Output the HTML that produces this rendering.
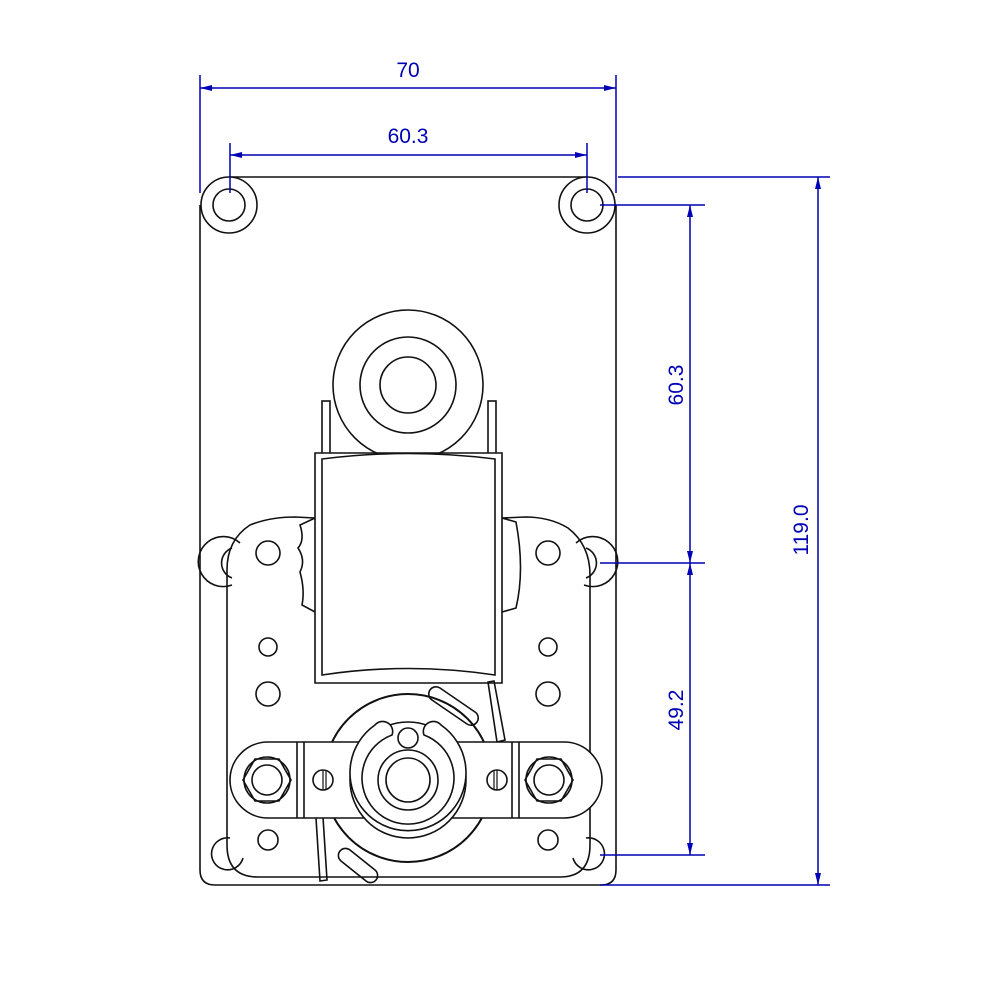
<!DOCTYPE html>
<html><head><style>html,body{margin:0;padding:0;background:#fff}svg{display:block}</style></head><body>
<svg width="1000" height="1000" viewBox="0 0 1000 1000" xmlns="http://www.w3.org/2000/svg">
<defs>
<marker id="a" viewBox="0 0 12 6" refX="12" refY="3" markerWidth="12" markerHeight="6" markerUnits="userSpaceOnUse" orient="auto-start-reverse"><path d="M0,0 L12,3 L0,6z" fill="#0000b4"/></marker>
</defs>
<g fill="none" stroke="#111" stroke-width="1.6">
<!-- plate -->
<path d="M229,177 H587 M616,205 V870 Q616,885 601,885 H215 Q200,885 200,870 V205"/>
<circle cx="229" cy="205" r="28" fill="#fff"/><circle cx="229" cy="205" r="16"/>
<circle cx="587" cy="205" r="28" fill="#fff"/><circle cx="587" cy="205" r="16"/>
<!-- motor top -->
<circle cx="408" cy="385" r="75"/><circle cx="408" cy="385" r="48"/><circle cx="408" cy="385" r="28"/>
<rect x="322" y="401" width="8" height="56" fill="#fff"/><rect x="488" y="401" width="8" height="56" fill="#fff"/>
<!-- gearbox body -->
<path d="M227,845 V570 Q227,540 250,525 Q270,517 295,517 L315,518 M502,518 L525,517 Q550,517 568,528 Q590,545 590,575 V845 Q590,877 560,877 H258 Q227,877 227,845"/>
<path d="M240,543 A25,25 0 1 0 232,585" /><path d="M232,548 A16,16 0 0 0 232,578"/>
<path d="M576,543 A25,25 0 1 1 584,585"/><path d="M586,548 A16,16 0 0 1 586,578"/>
<path d="M230,838 A16,16 0 1 0 243,858"/><path d="M586,838 A16,16 0 1 1 573,858"/>
<path d="M315,518 L300,525 Q305,540 298,548 Q306,560 300,572 Q305,590 302,605 L315,612"/>
<path d="M502,518 L516,522 Q525,570 516,608 L502,612"/>
<!-- coil -->
<path d="M315,453 H502 V683 H315 Z" fill="#fff"/>
<path d="M322,459 Q408,448 495,459 V675 Q408,662 322,675 Z"/>
<!-- holes -->
<circle cx="268" cy="553" r="12"/><circle cx="548" cy="553" r="12"/>
<circle cx="268" cy="647" r="9"/><circle cx="548" cy="647" r="9"/>
<circle cx="268" cy="694" r="12"/><circle cx="548" cy="694" r="12"/>
<circle cx="268" cy="840" r="10"/><circle cx="548" cy="840" r="10"/>
<!-- levers -->
<path d="M440,688 L475,712 A7,7 0 0 1 467,724 L432,700 A7,7 0 0 1 440,688Z"/>
<path d="M488,682 L494,681 L505,740 L497,742Z"/>
<path d="M316,818 L323,817 L327,880 L320,881Z"/>
<path d="M350,850 L375,870 A7,7 0 0 1 366,881 L341,861 A7,7 0 0 1 350,850Z"/>
<!-- gear -->
<circle cx="408" cy="778" r="84" stroke-width="2"/>
<path d="M306,742 H564 A38,38 0 0 1 564,818 H268 A38,38 0 0 1 268,742 Z" fill="#fff"/>
<path d="M297,742 V818 M304,742 V818 M512,742 V818 M519,742 V818"/>
<circle cx="408" cy="780" r="58" fill="#fff"/>
<path d="M392,735 A10,10 0 0 0 375,725 A58,58 0 1 0 441,725 A10,10 0 0 0 424,735 A46,46 0 1 1 392,735Z" fill="#fff"/>
<circle cx="408" cy="738" r="10"/>
<circle cx="408" cy="780" r="30"/><circle cx="408" cy="780" r="22"/>
<circle cx="323" cy="780" r="10"/><path d="M323,770 V790 M326,770 V790" stroke-width="1.2"/>
<circle cx="497" cy="780" r="10"/><path d="M497,770 V790 M494,770 V790" stroke-width="1.2"/>
<polygon points="291,780 279,801 255,801 243,780 255,759 279,759"/><circle cx="267" cy="780" r="23"/><circle cx="267" cy="780" r="15"/>
<polygon points="573,780 561,801 537,801 525,780 537,759 561,759"/><circle cx="549" cy="780" r="23"/><circle cx="549" cy="780" r="15"/>
</g>
<!-- dimensions -->
<g stroke="#0000b4" stroke-width="1.5" fill="none">
<path d="M200,75 V193 M616,75 V193 M230,143 V193 M587,143 V193"/>
<path d="M200,88 H616" marker-start="url(#a)" marker-end="url(#a)"/>
<path d="M230,155 H587" marker-start="url(#a)" marker-end="url(#a)"/>
<path d="M618,177 H830 M600,205 H705 M600,563 H705 M600,855 H705 M600,885 H830"/>
<path d="M690,205 V563" marker-start="url(#a)" marker-end="url(#a)"/>
<path d="M690,563 V855" marker-start="url(#a)" marker-end="url(#a)"/>
<path d="M818,177 V885" marker-start="url(#a)" marker-end="url(#a)"/>
</g>
<g fill="#0000b4" font-family="Liberation Sans, sans-serif" font-size="21" text-anchor="middle">
<text x="408" y="77">70</text>
<text x="408" y="143">60.3</text>
<text transform="translate(683,385) rotate(-90)">60.3</text>
<text transform="translate(683,710) rotate(-90)">49.2</text>
<text transform="translate(808,530) rotate(-90)">119.0</text>
</g>
</svg>
</body></html>
